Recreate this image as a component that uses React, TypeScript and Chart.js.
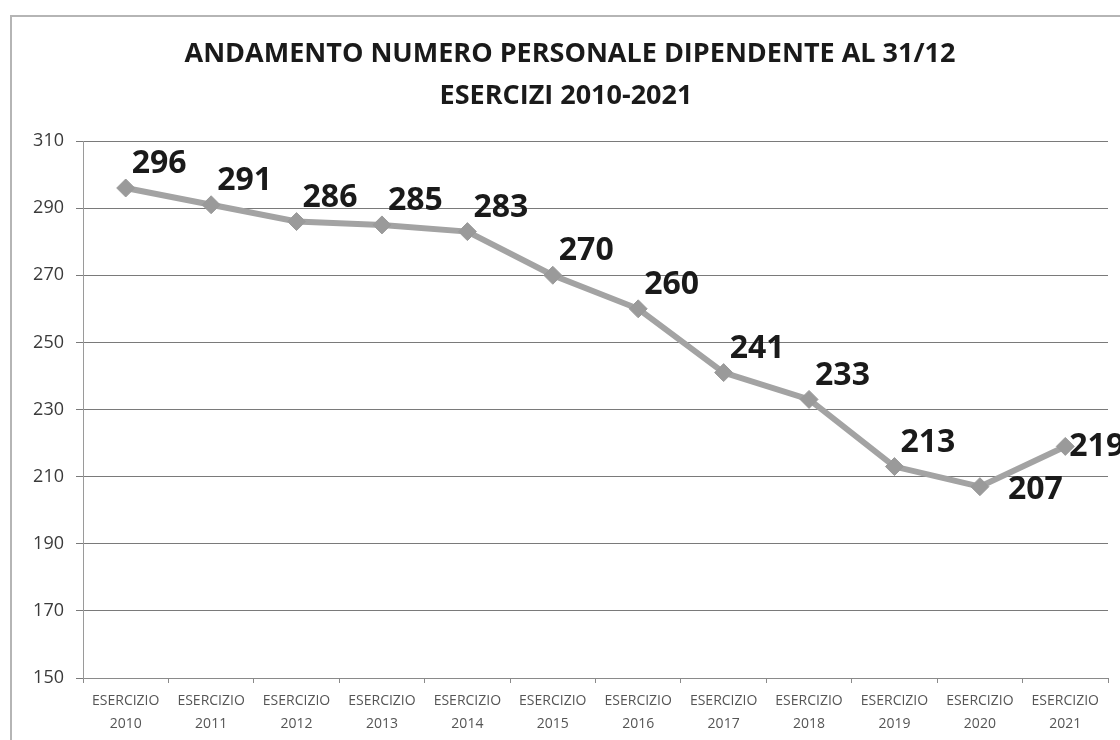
import React, { useEffect, useRef } from "react";
import { Chart, registerables } from "chart.js";

Chart.register(...registerables);

const categories = [
  ["ESERCIZIO", "2010"], ["ESERCIZIO", "2011"], ["ESERCIZIO", "2012"], ["ESERCIZIO", "2013"],
  ["ESERCIZIO", "2014"], ["ESERCIZIO", "2015"], ["ESERCIZIO", "2016"], ["ESERCIZIO", "2017"],
  ["ESERCIZIO", "2018"], ["ESERCIZIO", "2019"], ["ESERCIZIO", "2020"], ["ESERCIZIO", "2021"],
];
const values = [296, 291, 286, 285, 283, 270, 260, 241, 233, 213, 207, 219];
const labelPlacement = ["above", "above", "above", "above", "above", "above", "above", "above", "above", "above", "below", "right"];
const titleLines = ["ANDAMENTO NUMERO PERSONALE DIPENDENTE AL 31/12", "ESERCIZI 2010-2021"];
const yMin = 150;
const yMax = 310;
const yStep = 20;

const titlePlugin = {
  id: "customTitle",
  afterDraw(chart: any) {
    const ctx = chart.ctx;
    ctx.save();
    ctx.fillStyle = "#1a1a1a";
    ctx.font = "bold 27px 'Open Sans'";
    ctx.textAlign = "center";
    ctx.textBaseline = "middle";
    ctx.fillText(titleLines[0], 570, 54);
    ctx.fillText(titleLines[1], 566, 96);
    ctx.restore();
  },
};

const valueLabelPlugin = {
  id: "valueLabels",
  afterDatasetsDraw(chart: any) {
    const ctx = chart.ctx;
    const meta = chart.getDatasetMeta(0);
    ctx.save();
    ctx.fillStyle = "#1a1a1a";
    ctx.font = "bold 32px 'Open Sans'";
    ctx.textAlign = "left";
    ctx.textBaseline = "middle";
    meta.data.forEach((pt: any, i: number) => {
      const p = labelPlacement[i];
      const text = String(values[i]);
      if (p === "above") {
        ctx.fillText(text, pt.x + 6, pt.y - 24);
      } else if (p === "below") {
        ctx.fillText(text, pt.x + 28, pt.y + 3);
      } else {
        ctx.fillText(text, pt.x + 4, pt.y);
      }
    });
    ctx.restore();
  },
};

export default function App() {
  const ref = useRef<HTMLCanvasElement>(null);
  useEffect(() => {
    document.body.style.margin = "0";
    document.body.style.overflow = "hidden";
    const chart = new Chart(ref.current!, {
      type: "line",
      data: {
        labels: categories,
        datasets: [
          {
            data: values,
            borderColor: "#a3a3a3",
            borderWidth: 6,
            pointStyle: "rectRot",
            pointRadius: 9,
            pointBackgroundColor: "#9a9a9a",
            pointBorderColor: "#9a9a9a",
            pointBorderWidth: 1,
            tension: 0,
          },
        ],
      },
      options: {
        animation: false,
        responsive: false,
        maintainAspectRatio: false,
        layout: { padding: { top: 141, right: 12, bottom: 0, left: 0 } },
        plugins: { legend: { display: false }, title: { display: false }, tooltip: { enabled: false } },
        scales: {
          x: {
            type: "category",
            offset: true,
            grid: { display: true, drawOnChartArea: false, drawTicks: true, tickLength: 5, color: "#8a8a8a", offset: true },
            border: { display: true, color: "#8a8a8a", width: 1 },
            ticks: {
              color: "#555",
              font: { family: "'Open Sans'", size: 14, lineHeight: 1.65 },
              padding: 6,
              maxRotation: 0,
              autoSkip: false,
            },
            afterFit(scale: any) {
              scale.height = 62;
            },
          },
          y: {
            min: yMin,
            max: yMax,
            ticks: {
              stepSize: yStep,
              color: "#3a3a3a",
              font: { family: "'Open Sans'", size: 18 },
              padding: 12,
            },
            grid: { color: "#7a7a7a", lineWidth: 1, drawTicks: true, tickLength: 7 },
            border: { display: true, color: "#9a9a9a", width: 1 },
            afterFit(scale: any) {
              scale.width = 83;
            },
          },
        },
      },
      plugins: [titlePlugin, valueLabelPlugin],
    });
    return () => chart.destroy();
  }, []);
  return (
    <div style={{ position: "relative", width: 1120, height: 740, overflow: "hidden", background: "#fff" }}>
      <div
        style={{
          position: "absolute",
          left: 10,
          top: 15,
          width: 1140,
          height: 760,
          border: "2px solid #b5b5b5",
          boxSizing: "border-box",
        }}
      />
      <canvas ref={ref} width={1120} height={740} style={{ position: "absolute", left: 0, top: 0 }} />
    </div>
  );
}
